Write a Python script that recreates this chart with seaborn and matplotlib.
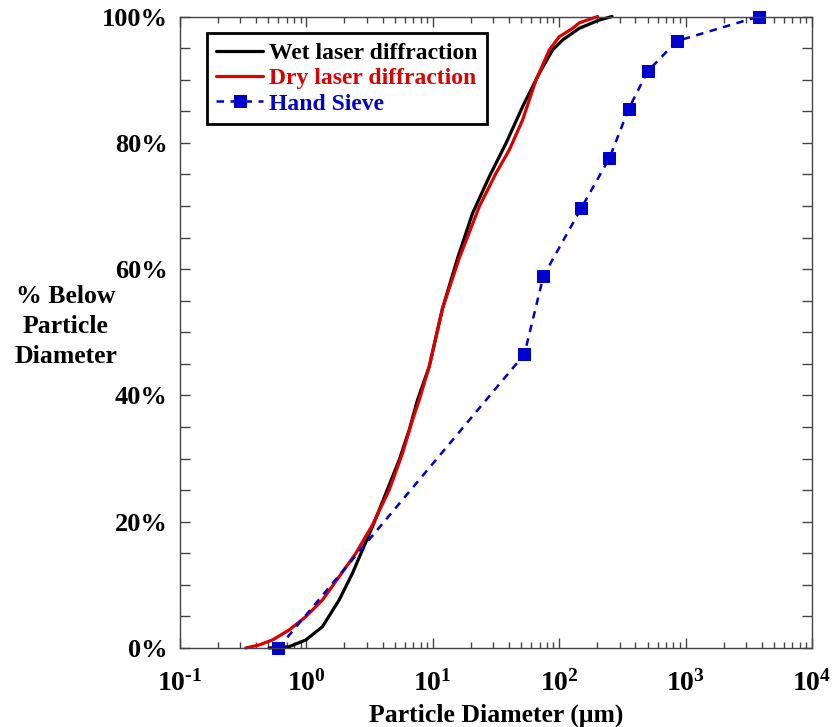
import numpy as np
import pandas as pd
import matplotlib
matplotlib.use("Agg")
import matplotlib.pyplot as plt
from matplotlib.ticker import FixedLocator, FuncFormatter, LogLocator, NullFormatter
import seaborn as sns

# Cumulative size distributions (% passing)
wet_d = [0.507, 0.730, 0.989, 1.339, 1.815, 2.313, 2.776, 3.332, 4.254, 5.420,
         6.505, 7.565, 9.365, 11.94, 15.69, 20.63, 27.97, 37.93, 51.31, 69.58,
         88.66, 106.4, 144.2, 207.7, 261.9]
wet_pct = [0.0, 0.21, 1.27, 3.37, 7.60, 11.83, 15.52, 19.21, 24.50, 29.77,
           34.52, 39.27, 44.55, 53.79, 61.71, 68.84, 74.63, 79.92, 85.72, 91.01,
           94.70, 96.28, 98.13, 99.45, 100.0]

dry_d = [0.331, 0.422, 0.538, 0.730, 0.989, 1.339, 1.815, 2.461, 3.332, 4.517,
         5.756, 6.907, 7.803, 9.365, 11.94, 16.18, 23.30, 31.60, 40.26, 51.31,
         65.52, 83.49, 100.2, 127.7, 144.2, 201.4]
dry_pct = [0.0, 0.48, 1.27, 2.85, 4.96, 7.60, 11.29, 15.00, 19.48, 25.02,
           30.83, 36.10, 39.27, 44.55, 53.79, 61.71, 69.88, 75.17, 78.86, 83.61,
           89.94, 94.70, 96.80, 98.13, 99.0, 100.0]

sieve_d = [0.6, 53, 75, 150, 250, 355, 500, 850, 3800]
sieve_pct = [0.0, 46.5, 58.9, 69.7, 77.6, 85.4, 91.3, 96.1, 100.0]

series_names = ["Wet laser diffraction", "Dry laser diffraction", "Hand Sieve"]
y_tick_labels = ["0%", "20%", "40%", "60%", "80%", "100%"]

sns.set_theme(style="ticks")
plt.rcParams["font.family"] = ["Liberation Serif", "DejaVu Serif"]
plt.rcParams["font.weight"] = "bold"
plt.rcParams["text.color"] = "black"
plt.rcParams["axes.labelcolor"] = "black"
plt.rcParams["xtick.labelcolor"] = "black"
plt.rcParams["ytick.labelcolor"] = "black"
plt.rcParams["mathtext.fontset"] = "custom"
plt.rcParams["mathtext.rm"] = "Liberation Serif:bold"
plt.rcParams["mathtext.bf"] = "Liberation Serif:bold"
plt.rcParams["mathtext.it"] = "Liberation Serif:bold"

BLACK = "#000000"
RED = "#dd0000"
BLUE = "#0000cc"

fig = plt.figure(figsize=(8.32, 7.27), dpi=100)
ax = fig.add_axes([180 / 832, 1 - 648 / 727, 632 / 832, 631.5 / 727])

wet = pd.DataFrame({"d": wet_d, "pct": wet_pct})
dry = pd.DataFrame({"d": dry_d, "pct": dry_pct})
sieve = pd.DataFrame({"d": sieve_d, "pct": sieve_pct})

sns.lineplot(data=wet, x="d", y="pct", ax=ax, color=BLACK, lw=2.3,
             sort=False, estimator=None, label=series_names[0])
sns.lineplot(data=dry, x="d", y="pct", ax=ax, color=RED, lw=2.3,
             sort=False, estimator=None, label=series_names[1])
sns.lineplot(data=sieve, x="d", y="pct", ax=ax, color=BLUE, lw=1.8,
             sort=False, estimator=None, label=series_names[2],
             marker="s", markersize=8.5, markeredgecolor=BLUE,
             markerfacecolor=BLUE, dashes=False)
ax.lines[-1].set_linestyle((0, (3, 2.6)))
for ln in ax.lines:
    ln.set_clip_on(False)
    ln.set_solid_joinstyle("round")
    ln.set_solid_capstyle("round")

ax.set_xscale("log")
ax.set_xlim(0.1, 1e4)
ax.set_ylim(0, 100)

# y ticks: labelled every 20 %, unlabelled every 5 %
ax.yaxis.set_major_locator(FixedLocator([0, 20, 40, 60, 80, 100]))
ax.yaxis.set_major_formatter(FuncFormatter(
    lambda v, p: y_tick_labels[int(round(v / 20))]))
ax.yaxis.set_minor_locator(FixedLocator(np.arange(0, 101, 5)))

ax.xaxis.set_major_locator(LogLocator(base=10, numticks=10))
ax.xaxis.set_major_formatter(FuncFormatter(
    lambda v, p: r"$\mathbf{10^{\text{%d}}}$" % int(round(np.log10(v)))))
ax.xaxis.set_minor_locator(LogLocator(base=10, subs=np.arange(2, 10), numticks=20))
ax.xaxis.set_minor_formatter(NullFormatter())

ax.tick_params(axis="both", which="both", direction="in", top=True, right=True,
               color="#444444", width=1.0)
ax.tick_params(axis="x", which="major", length=7, labelsize=20, pad=16)
ax.tick_params(axis="x", which="minor", length=4)
ax.tick_params(axis="y", which="both", length=7, labelsize=19, pad=9)
for lab in ax.get_yticklabels() + ax.get_xticklabels():
    lab.set_fontweight("bold")

for s in ax.spines.values():
    s.set_color("#444444")
    s.set_linewidth(1.0)

ax.set_xlabel("Particle Diameter (\u03bcm)", fontsize=18.5, fontweight="bold", labelpad=5)
ax.set_ylabel("% Below\nParticle\nDiameter", fontsize=18.5, fontweight="bold",
              rotation=0, ha="center", va="center", linespacing=1.38)
ax.yaxis.set_label_coords(-0.181, 0.509)

leg = ax.legend(loc="upper left", bbox_to_anchor=(0.042, 0.974), frameon=True,
                fancybox=False, edgecolor="black", framealpha=1,
                prop={"family": "Liberation Serif", "weight": "bold", "size": 17},
                handlelength=2.0, handletextpad=0.25, borderpad=0.4,
                labelspacing=0.16, borderaxespad=0)
leg.get_frame().set_linewidth(2.0)
for txt, c in zip(leg.get_texts(), [BLACK, RED, BLUE]):
    txt.set_color(c)

fig.savefig("out.png", dpi=100)
